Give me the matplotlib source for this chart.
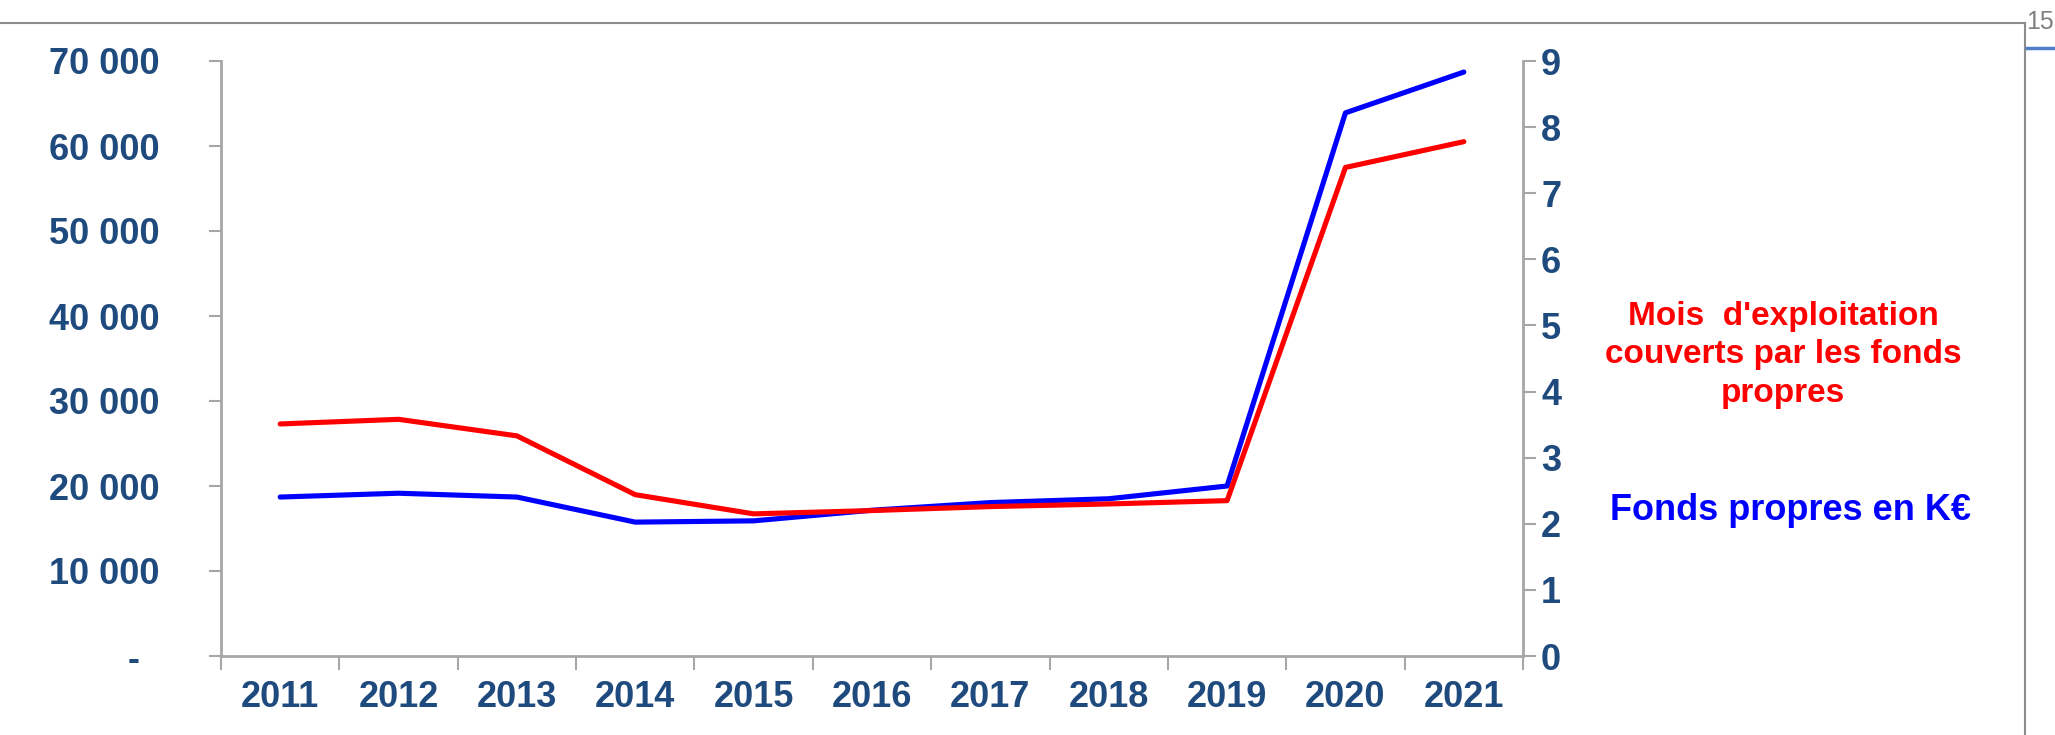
import matplotlib.pyplot as plt
import numpy as np
from matplotlib.lines import Line2D
from matplotlib.ticker import FuncFormatter, FixedLocator

plt.rcParams['font.family'] = ['Liberation Sans', 'DejaVu Sans']

# Data
years = ['2011', '2012', '2013', '2014', '2015', '2016', '2017', '2018', '2019', '2020', '2021']
fonds_propres = [18700, 19150, 18700, 15750, 15900, 17150, 18050, 18500, 20000, 63900, 68700]
mois_couverts = [3.51, 3.58, 3.33, 2.44, 2.15, 2.20, 2.26, 2.30, 2.35, 7.39, 7.78]

navy = '#1F4A7E'
axis_grey = '#A6A6A6'

fig = plt.figure(figsize=(20.55, 7.35), dpi=100)
ax = fig.add_axes([221 / 2055, 79 / 735, 1302 / 2055, 595 / 735])
ax2 = ax.twinx()

x = np.arange(len(years))
ax.plot(x, fonds_propres, color='#0000FF', linewidth=3.7, solid_capstyle='round', zorder=3)
ax2.plot(x, mois_couverts, color='#FF0000', linewidth=3.7, solid_capstyle='round', zorder=3)

ax.set_xlim(-0.5, len(years) - 0.5)
ax.set_ylim(0, 70000)
ax2.set_ylim(0, 9)

# category labels between tick marks (Excel style)
ax.xaxis.set_major_locator(FixedLocator(np.arange(-0.5, len(years), 1.0)))
ax.xaxis.set_major_formatter(FuncFormatter(lambda v, p: ''))
ax.set_xticks(x, years, minor=True)
ax.tick_params(axis='x', which='major', direction='out', length=10, width=1.5, color=axis_grey)
ax.tick_params(axis='x', which='minor', length=0, pad=17, labelsize=26, labelcolor=navy)
for lab in ax.get_xticklabels(minor=True):
    lab.set_fontweight('bold')

ax.set_yticks(np.arange(0, 70001, 10000))
ax.yaxis.set_major_formatter(FuncFormatter(
    lambda v, p: '-  ' if v == 0 else f'{int(v):,}'.replace(',', ' ')))
ax.tick_params(axis='y', direction='out', length=9, width=1.5, color=axis_grey,
               pad=35, labelsize=26, labelcolor=navy)
for lab in ax.get_yticklabels():
    lab.set_fontweight('bold')

ax2.set_yticks(np.arange(0, 10, 1))
ax2.tick_params(axis='y', direction='out', length=9, width=1.5, color=axis_grey,
                pad=4, labelsize=26, labelcolor=navy)
for lab in ax2.get_yticklabels():
    lab.set_fontweight('bold')

for a in (ax, ax2):
    a.spines['top'].set_visible(False)
    for s in ('left', 'right', 'bottom'):
        a.spines[s].set_color(axis_grey)
        a.spines[s].set_linewidth(2)
ax2.spines['bottom'].set_visible(False)
ax2.spines['left'].set_visible(False)
ax.spines['right'].set_visible(False)

# series labels on the right
fig.text(1783 / 2055, 1 - 355 / 735, "Mois  d'exploitation\ncouverts par les fonds\npropres",
         color='#FF0000', fontsize=24, fontweight='bold', ha='center', va='center',
         linespacing=1.3)
fig.text(1791 / 2055, 1 - 510 / 735, 'Fonds propres en K€', color='#0000FF',
         fontsize=26, fontweight='bold', ha='center', va='center')

# slide frame, page number
fig.add_artist(Line2D([0, 2025 / 2055], [1 - 22.5 / 735] * 2, color='#8C8C8C', linewidth=1.5))
fig.add_artist(Line2D([2025 / 2055] * 2, [0, 1 - 22.5 / 735], color='#8C8C8C', linewidth=1.5))
fig.add_artist(Line2D([2027 / 2055, 1], [1 - 48 / 735] * 2, color='#4F7FC8', linewidth=2.5))
fig.text(2026 / 2055, 1 - 22 / 735, '15', color='#808080', fontsize=18, ha='left', va='center')

fig.savefig('out.png', dpi=100)
